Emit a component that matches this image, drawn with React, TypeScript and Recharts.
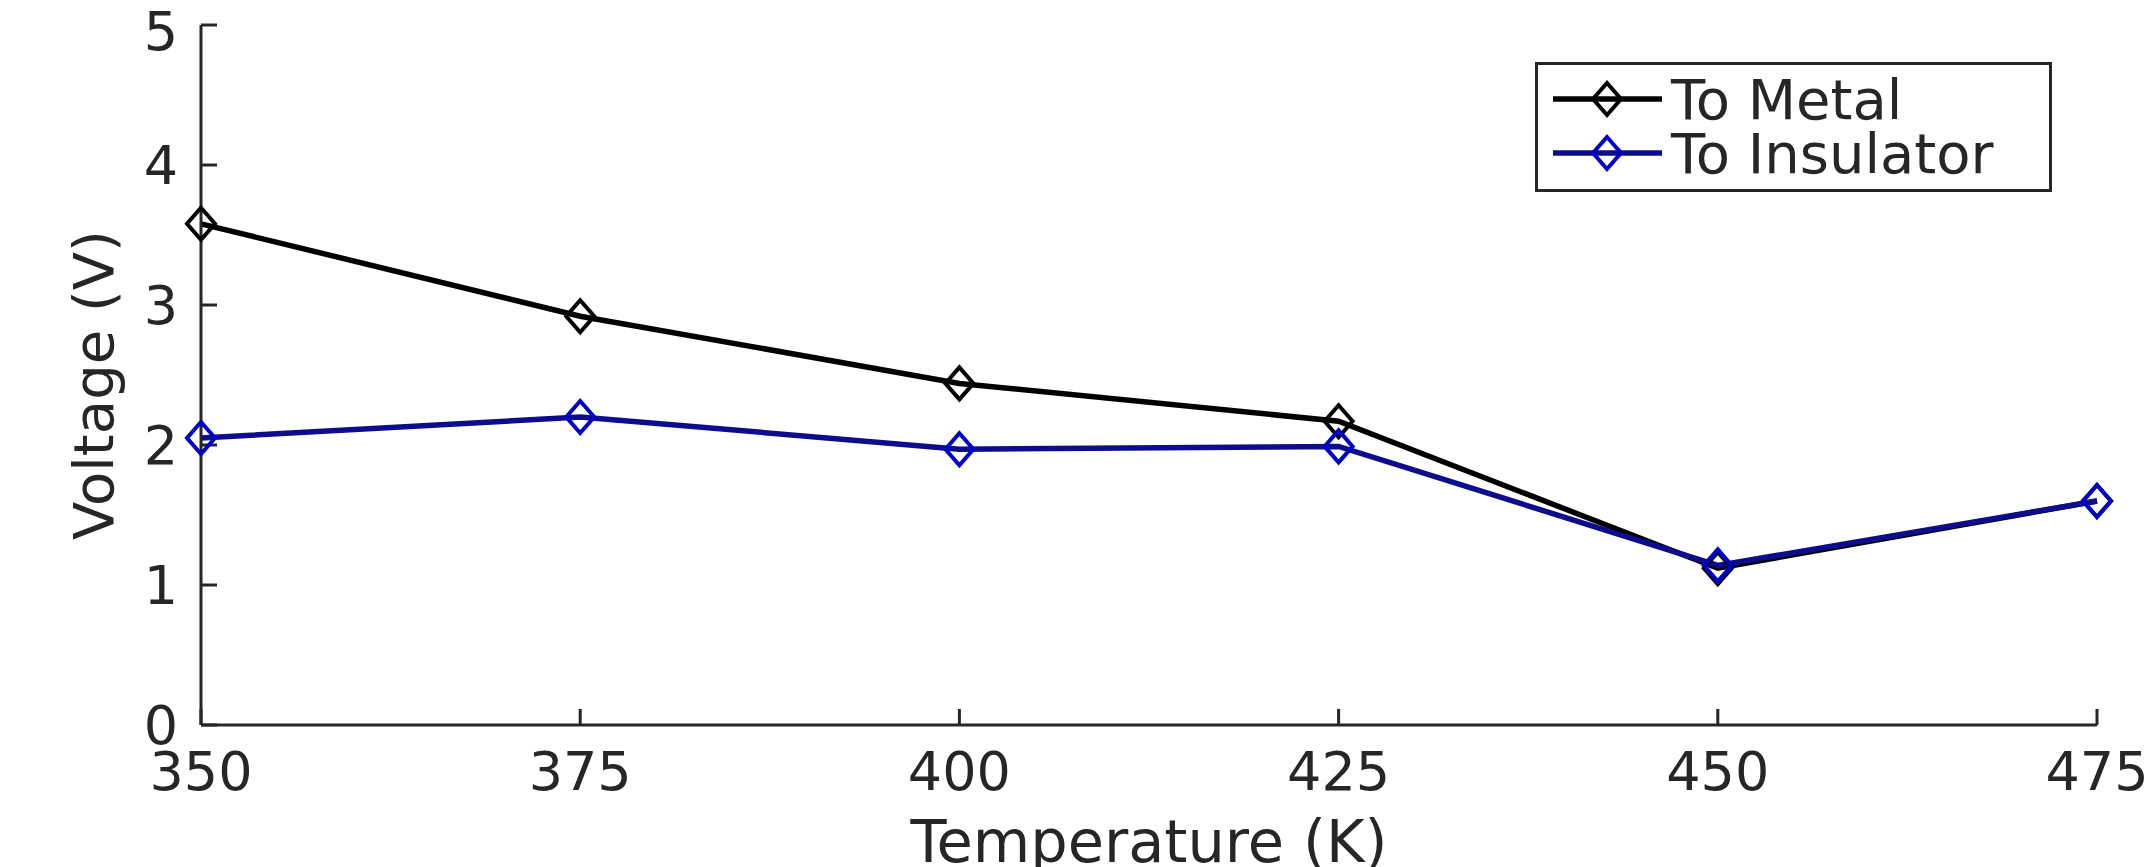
import { LineChart, Line, XAxis, YAxis, Legend } from 'recharts';

const temps = [350, 375, 400, 425, 450, 475];
const toMetal = [3.58, 2.92, 2.44, 2.17, 1.12, 1.6];
const toInsulator = [2.05, 2.2, 1.97, 1.99, 1.14, 1.6];
const xTicks = [350, 375, 400, 425, 450, 475];
const yTicks = [0, 1, 2, 3, 4, 5];

const data = temps.map((t, i) => ({ temp: t, metal: toMetal[i], insulator: toInsulator[i] }));

const AXIS = '#262626';
const BLUE_LINE = '#0c0c8c';
const BLUE_MARK = '#0000c8';

function diamond(cx: number, cy: number) {
  return `M${cx},${cy - 16} L${cx + 14},${cy} L${cx},${cy + 16} L${cx - 14},${cy} Z`;
}

function makeDot(color: string) {
  return (p: any) => (
    <path key={`d-${p.index}`} d={diamond(p.cx, p.cy)} fill="none" stroke={color} strokeWidth={4} />
  );
}

// y label drawn a bit below the axis middle, like the original
function VoltageLabel(props: any) {
  const vb = props.viewBox || { x: 0, y: 0, width: 0, height: 0 };
  const x = vb.x + 93;
  const y = vb.y + vb.height / 2 + 10;
  return (
    <text
      x={x}
      y={y}
      transform={`rotate(-90, ${x}, ${y})`}
      textAnchor="middle"
      dominantBaseline="central"
      fontSize={56}
      fill={AXIS}
      fontFamily="DejaVu Sans"
    >
      Voltage (V)
    </text>
  );
}

function LegendBox() {
  const rows = [
    { name: 'To Metal', line: '#000', mark: '#000', y: 37 },
    { name: 'To Insulator', line: BLUE_LINE, mark: BLUE_MARK, y: 91 },
  ];
  return (
    <svg width={517} height={130} style={{ display: 'block' }}>
      <rect x={1.5} y={1.5} width={514} height={127} fill="#fff" stroke={AXIS} strokeWidth={3} />
      {rows.map((r) => (
        <g key={r.name}>
          <line x1={18} x2={127} y1={r.y} y2={r.y} stroke={r.line} strokeWidth={5.5} />
          <path d={diamond(72, r.y)} fill="none" stroke={r.mark} strokeWidth={4} />
          <text x={136} y={r.y} dominantBaseline="central" fontSize={56} fill={AXIS} fontFamily="DejaVu Sans">
            {r.name}
          </text>
        </g>
      ))}
    </svg>
  );
}

export default function App() {
  const tickStyle = { fontSize: 54, fill: AXIS, fontFamily: 'DejaVu Sans' };
  return (
    <div>
      <style>{'body{margin:0;background:#fff}'}</style>
      <LineChart
        width={2149}
        height={867}
        data={data}
        margin={{ top: 25, right: 52, left: 0, bottom: 0 }}
        style={{ fontFamily: 'DejaVu Sans' }}
      >
        <XAxis
          dataKey="temp"
          type="number"
          domain={[350, 475]}
          ticks={xTicks}
          height={142}
          tickSize={-16}
          tickMargin={43}
          stroke={AXIS}
          strokeWidth={3}
          tick={tickStyle}
          label={{ value: 'Temperature (K)', position: 'insideBottom', offset: 5, style: { fontSize: 59, fill: AXIS } }}
        />
        <YAxis
          type="number"
          domain={[0, 5]}
          ticks={yTicks}
          width={201}
          tickSize={-16}
          tickMargin={39}
          stroke={AXIS}
          strokeWidth={3}
          tick={tickStyle}
          label={{ value: 'Voltage (V)', content: VoltageLabel }}
        />
        <Legend
          layout="vertical"
          align="center"
          verticalAlign="middle"
          wrapperStyle={{ left: 1535, top: 62, width: 517, height: 130 }}
          content={() => <LegendBox />}
        />
        <Line
          dataKey="metal"
          name="To Metal"
          stroke="#000"
          strokeWidth={5.5}
          dot={makeDot('#000')}
          activeDot={false}
          isAnimationActive={false}
        />
        <Line
          dataKey="insulator"
          name="To Insulator"
          stroke={BLUE_LINE}
          strokeWidth={5.5}
          dot={makeDot(BLUE_MARK)}
          activeDot={false}
          isAnimationActive={false}
        />
      </LineChart>
    </div>
  );
}
